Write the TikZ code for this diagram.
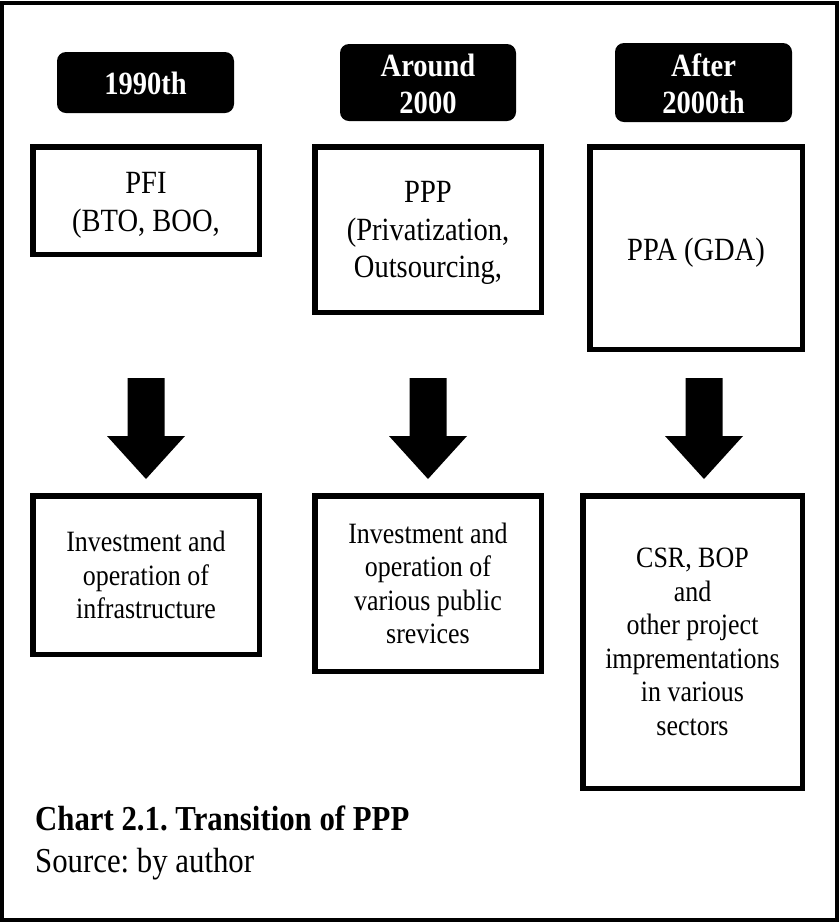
\documentclass[tikz,border=0pt]{standalone}
\usepackage{fontspec}
\setmainfont{Liberation Serif}[FakeStretch=0.88]
\frenchspacing
\begin{document}
\begin{tikzpicture}[x=1pt,y=-1pt,
  frame/.style={draw=black, line width=4pt},
  stage/.style={fill=black, rounded corners=9pt, inner sep=0pt},
  stagetext/.style={text=white, font=\fontsize{32.4}{37}\selectfont\bfseries, align=center, inner sep=0pt},
  box/.style={draw=black, line width=5.5pt, inner sep=0pt},
  toptext/.style={font=\fontsize{32.4}{37.5}\selectfont, align=center, inner sep=0pt},
  bottext/.style={font=\fontsize{29.5}{33.5}\selectfont, align=center, inner sep=0pt},
  captext/.style={anchor=base west, inner sep=0pt, font=\fontsize{35}{40}\selectfont},
  pics/downarrow/.style={code={
    \fill[black] (-18.5,0) -- (18.5,0) -- (18.5,58) -- (39,58) -- (0,101)
      -- (-39,58) -- (-18.5,58) -- cycle;}}]

\useasboundingbox (0,0) rectangle (839,922);

% outer frame
\draw[frame] (2,3) rectangle (836.5,920);

% period labels
\node[stage, minimum width=177pt, minimum height=61pt] (L1) at (145.5,82.5) {};
\node[stage, minimum width=176pt, minimum height=77pt] (L2) at (428,82.5) {};
\node[stage, minimum width=177pt, minimum height=79pt] (L3) at (703.5,82.5) {};
\node[stagetext, yshift=-0.5pt] (L1t) at (L1.center) {1990th};
\node[stagetext, yshift=-1pt] (L2t) at (L2.center) {Around\\2000};
\node[stagetext, yshift=-1pt] (L3t) at (L3.center) {After\\2000th};

% scheme boxes
\node[box, minimum width=226.5pt, minimum height=107.5pt] (B1) at (146,200.5) {};
\node[box, minimum width=226.5pt, minimum height=165.5pt] (B2) at (428,229.5) {};
\node[box, minimum width=212.5pt, minimum height=202.5pt] (B3) at (696,248) {};
\node[toptext, yshift=-5pt] (B1t) at (B1.center) {PFI\\(BTO, BOO,};
\node[toptext, yshift=-3.5pt] (B2t) at (B2.center) {PPP\\(Privatization,\\Outsourcing,};
\node[toptext, yshift=-5pt] (B3t) at (B3.center) {PPA (GDA)};

% arrows
\pic at (146,378) {downarrow};
\pic at (428,378) {downarrow};
\pic at (704,378) {downarrow};

% content boxes
\node[box, minimum width=226.5pt, minimum height=158.5pt] (C1) at (146,575) {};
\node[box, minimum width=226.5pt, minimum height=175.5pt] (C2) at (428,583.5) {};
\node[box, minimum width=219.5pt, minimum height=292.5pt] (C3) at (692.5,642) {};
\node[bottext] (C1t) at (C1.center) {Investment and\\operation of\\infrastructure};
\node[bottext] (C2t) at (C2.center) {Investment and\\operation of\\various public\\srevices};
\node[bottext] (C3t) at (C3.center) {CSR, BOP\\and\\other project\\imprementations\\in various\\sectors};

% caption
\node[captext, font=\fontsize{35}{40}\selectfont\bfseries] (cap) at (35,830) {Chart 2.1. Transition of PPP};
\node[captext] (src) at (35,872) {Source: by author};
\end{tikzpicture}
\end{document}
